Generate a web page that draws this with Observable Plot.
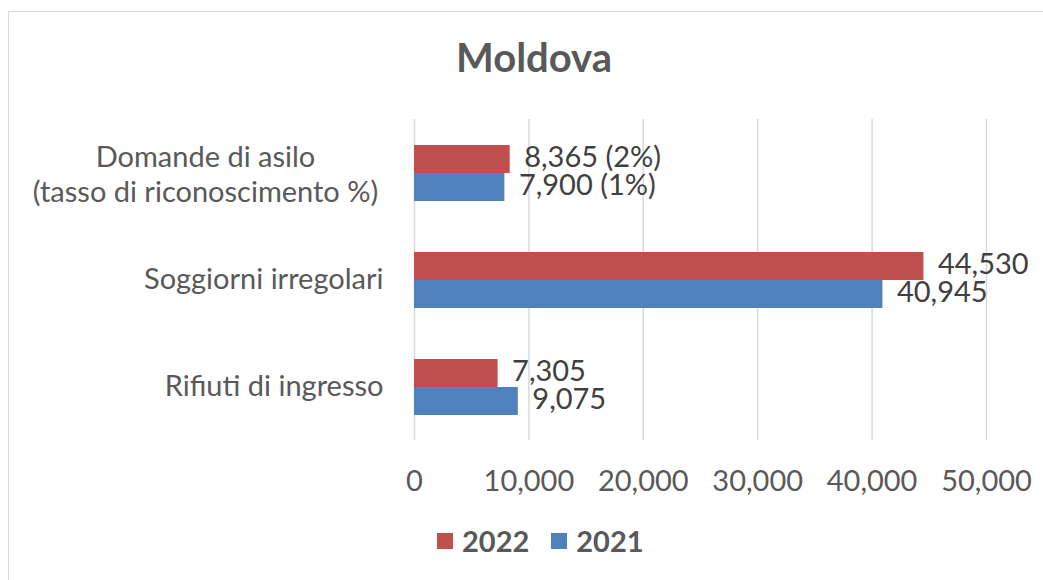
<!DOCTYPE html>
<html><head><meta charset="utf-8">
<script src="https://cdn.jsdelivr.net/npm/d3@7"></script>
<script src="https://cdn.jsdelivr.net/npm/@observablehq/plot@0.6"></script>
<style>
body{margin:0;background:#fff;font-family:Lato,"Open Sans",sans-serif;}
#wrap{position:relative;width:1043px;height:580px;overflow:hidden;}
#frame{position:absolute;left:8px;top:11px;width:1100px;height:620px;border:1.5px solid #d9d9d9;}
#title{position:absolute;top:33px;left:0;width:1068px;text-align:center;font-weight:bold;font-size:40px;color:#595959;}
#chart{position:absolute;left:0;top:100px;}
#legend{position:absolute;top:523px;left:437px;display:flex;align-items:center;font-weight:bold;font-size:29px;color:#595959;}
.sw{display:inline-block;width:16px;height:16px;margin-right:9px;}
.item{display:flex;align-items:center;margin-right:22px;}
</style></head>
<body>
<div id="wrap">
<div id="frame"></div>
<div id="title">Moldova</div>
<div id="chart"></div>
<div id="legend"></div>
</div>
<script>
const categories = ["Domande di asilo\n(tasso di riconoscimento %)", "Soggiorni irregolari", "Rifiuti di ingresso"];
const years = ["2022", "2021"];
const values2022 = [8365, 44530, 7305];
const values2021 = [7900, 40945, 9075];
const rates2022 = ["2%", null, null];
const rates2021 = ["1%", null, null];
const xTicks = [0, 10000, 20000, 30000, 40000, 50000];
const colors = ["#C0504D", "#4F81BD"];

const fmt = d3.format(",");
const rows = [];
categories.forEach((c, i) => {
  rows.push({category: c, year: "2022", value: values2022[i], label: fmt(values2022[i]) + (rates2022[i] ? ` (${rates2022[i]})` : "")});
  rows.push({category: c, year: "2021", value: values2021[i], label: fmt(values2021[i]) + (rates2021[i] ? ` (${rates2021[i]})` : "")});
});

const chart = Plot.plot({
  width: 1043, height: 400,
  marginTop: 18, marginBottom: 60, marginLeft: 414, marginRight: 57,
  style: {fontFamily: "Lato, 'Open Sans', sans-serif", overflow: "visible", background: "transparent"},
  x: {domain: [0, 50000]},
  fy: {domain: categories, padding: 0, axis: null},
  y: {domain: years, paddingInner: 0, paddingOuter: 0.91, axis: null},
  color: {domain: years, range: colors},
  marks: [
    Plot.gridX(xTicks, {stroke: "#d9d9d9", strokeOpacity: 1, strokeWidth: 1.5}),
    Plot.barX(rows, {x: "value", y: "year", fy: "category", fill: "year"}),
    Plot.text(rows, {x: "value", y: "year", fy: "category", text: "label", textAnchor: "start", dx: 14, dy: -2, fontSize: 29, fill: "#404040"}),
    Plot.text(categories.slice(0, 1), {fy: d => d, text: d => d, frameAnchor: "left", textAnchor: "middle", dx: -209, lineHeight: 1.24, fontSize: 29, fill: "#595959"}),
    Plot.text(categories.slice(1), {fy: d => d, text: d => d, frameAnchor: "left", textAnchor: "end", dx: -31, fontSize: 29, fill: "#595959"}),
    Plot.axisX(xTicks, {tickSize: 0, tickPadding: 30, tickFormat: fmt, fontSize: 29, fill: "#595959", label: null})
  ]
});
document.getElementById("chart").appendChild(chart);

const leg = document.getElementById("legend");
years.forEach((y, i) => {
  const it = document.createElement("div");
  it.className = "item";
  it.innerHTML = `<span class="sw" style="background:${colors[i]}"></span><span>${y}</span>`;
  leg.appendChild(it);
});
</script>
</body></html>
